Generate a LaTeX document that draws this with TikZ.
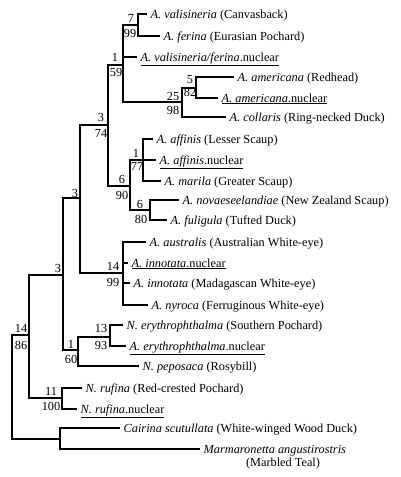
\documentclass[tikz,border=0pt]{standalone}
\usepackage{fontspec}
\setmainfont{Liberation Serif}
\begin{document}
\begin{tikzpicture}[x=1pt,y=-1pt,
  br/.style={line width=2pt, line cap=rect, line join=miter},
  leaf/.style={anchor=west, inner xsep=4.5pt, inner ysep=0pt, text height=9pt, text depth=1pt, font=\fontsize{12.3}{14}\selectfont},
  bs/.style={inner sep=0pt, font=\fontsize{12.3}{14}\selectfont}]
\useasboundingbox (0,0) rectangle (400,477);
% internal nodes
\coordinate (n799) at (138,25);
\coordinate (n582) at (196,88);
\coordinate (n2598) at (182,102);
\coordinate (n159) at (123,65);
\coordinate (n177) at (143,160);
\coordinate (n680) at (150,210);
\coordinate (n690) at (130,186);
\coordinate (n374) at (108,125);
\coordinate (n1499) at (123,273);
\coordinate (n3a) at (80,198);
\coordinate (n1393) at (110,337);
\coordinate (n160) at (78,350);
\coordinate (n3b) at (63,275);
\coordinate (n11) at (62,398);
\coordinate (n1486) at (29,335);
\coordinate (ncm) at (60,439);
\coordinate (root) at (12,387);
% leaves
\node[leaf] (t1) at (146,14) {\textit{A. valisineria} (Canvasback)};
\node[leaf] (t2) at (159,36) {\textit{A. ferina} (Eurasian Pochard)};
\node[leaf] (t3) at (136,57) {\underline{\textit{A. valisineria/ferina}.nuclear}};
\node[leaf] (t4) at (233,77) {\textit{A. americana} (Redhead)};
\node[leaf] (t5) at (217,98) {\underline{\textit{A. americana}.nuclear}};
\node[leaf] (t6) at (225,117) {\textit{A. collaris} (Ring-necked Duck)};
\node[leaf] (t7) at (152,139) {\textit{A. affinis} (Lesser Scaup)};
\node[leaf] (t8) at (155,160) {\underline{\textit{A. affinis}.nuclear}};
\node[leaf] (t9) at (160,181) {\textit{A. marila} (Greater Scaup)};
\node[leaf] (t10) at (178,200) {\textit{A. novaeseelandiae} (New Zealand Scaup)};
\node[leaf] (t11) at (166,220) {\textit{A. fuligula} (Tufted Duck)};
\node[leaf] (t12) at (145,242) {\textit{A. australis} (Australian White-eye)};
\node[leaf] (t13) at (127,263) {\underline{\textit{A. innotata}.nuclear}};
\node[leaf] (t14) at (129,283) {\textit{A. innotata} (Madagascan White-eye)};
\node[leaf] (t15) at (147,305) {\textit{A. nyroca} (Ferruginous White-eye)};
\node[leaf] (t16) at (122,325) {\textit{N. erythrophthalma} (Southern Pochard)};
\node[leaf] (t17) at (125,346) {\underline{\textit{A. erythrophthalma}.nuclear}};
\node[leaf] (t18) at (138,366) {\textit{N. peposaca} (Rosybill)};
\node[leaf] (t19) at (81,388) {\textit{N. rufina} (Red-crested Pochard)};
\node[leaf] (t20) at (76,409) {\underline{\textit{N. rufina}.nuclear}};
\node[leaf] (t21) at (119,428) {\textit{Cairina scutullata} (White-winged Wood Duck)};
\node[leaf] (t22) at (199,449) {\textit{Marmaronetta angustirostris}};
\node[bs] (t22b) at (283,464) {(Marbled Teal)};
% branches
\draw[br] (t1.west) -| (n799) |- (t2.west);
\draw[br] (t4.west) -| (n582) |- (t5.west);
\draw[br] (n582) -| (n2598) |- (t6.west);
\draw[br] (n799) -| (n159) |- (n2598);
\draw[br] (n159 |- t3.west) -- (t3.west);
\draw[br] (t7.west) -| (n177) |- (t9.west);
\draw[br] (n177) -- (t8.west);
\draw[br] (t10.west) -| (n680) |- (t11.west);
\draw[br] (n177) -| (n690) |- (n680);
\draw[br] (n159) -| (n374) |- (n690);
\draw[br] (t12.west) -| (n1499) |- (t15.west);
\draw[br] (n1499 |- t13.west) -- (t13.west);
\draw[br] (n1499 |- t14.west) -- (t14.west);
\draw[br] (n374) -| (n3a) |- (n1499);
\draw[br] (t16.west) -| (n1393) |- (t17.west);
\draw[br] (n1393) -| (n160) |- (t18.west);
\draw[br] (n3a) -| (n3b) |- (n160);
\draw[br] (t19.west) -| (n11) |- (t20.west);
\draw[br] (n3b) -| (n1486) |- (n11);
\draw[br] (t21.west) -| (ncm) |- (t22.west);
\draw[br] (n1486) -| (root) |- (ncm);
% support values
\node[bs] (b1) at (131,18) {7};
\node[bs] (b2) at (130,33) {99};
\node[bs] (b3) at (115,57) {1};
\node[bs] (b4) at (116,72) {59};
\node[bs] (b5) at (190,80) {5};
\node[bs] (b6) at (190,92) {82};
\node[bs] (b7) at (173,96) {25};
\node[bs] (b8) at (173,110) {98};
\node[bs] (b9) at (101,117) {3};
\node[bs] (b10) at (101,133) {74};
\node[bs] (b11) at (122,179) {6};
\node[bs] (b12) at (122,195) {90};
\node[bs] (b13) at (136,153) {1};
\node[bs] (b14) at (137,166) {77};
\node[bs] (b15) at (140,204) {6};
\node[bs] (b16) at (141,219) {80};
\node[bs] (b17) at (75,193) {3};
\node[bs] (b18) at (113,266) {14};
\node[bs] (b19) at (113,282) {99};
\node[bs] (b20) at (58,268) {3};
\node[bs] (b21) at (21,328) {14};
\node[bs] (b22) at (21,345) {86};
\node[bs] (b23) at (101,328) {13};
\node[bs] (b24) at (101,345) {93};
\node[bs] (b25) at (71,344) {1};
\node[bs] (b26) at (71,359) {60};
\node[bs] (b27) at (51,391) {11};
\node[bs] (b28) at (51,406) {100};
\end{tikzpicture}
\end{document}
